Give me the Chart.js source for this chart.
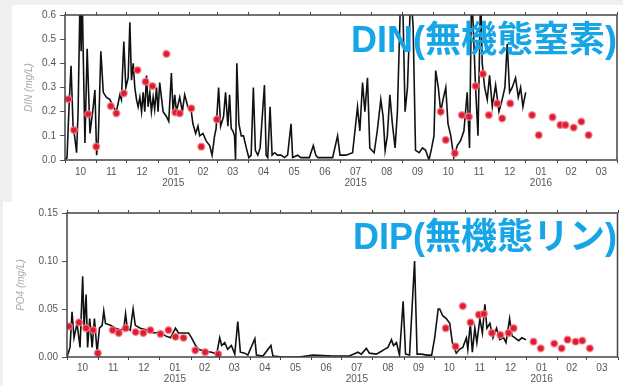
<!DOCTYPE html>
<html>
<head>
<meta charset="utf-8">
<script src="https://cdn.jsdelivr.net/npm/chart.js@4"></script>
<style>
  body { margin: 0; width: 623px; height: 386px; overflow: hidden; position: relative; background: #efefef; }
  .panel { position: absolute; background: #ffffff; }
  #p1 { left: 12px; top: 5px; width: 611px; height: 197px; }
  #p2 { left: 3px; top: 202px; width: 620px; height: 184px; }
  .ttl { position: absolute; right: 6px; top: 17px; color: #16a6e8; font-weight: bold; font-size: 36px; line-height: 36px;
         white-space: nowrap; font-family: "Liberation Sans", "Noto Sans CJK JP", sans-serif; }
</style>
</head>
<body>
<div class="panel" id="p1"><canvas id="dinChart" width="611" height="197"></canvas><div class="ttl">DIN(無機態窒素)</div></div>
<div class="panel" id="p2"><canvas id="dipChart" width="620" height="184"></canvas><div class="ttl">DIP(無機態リン)</div></div>
<script>
// Days counted from 2014-10-01
let monthStarts = [0, 31, 61, 92, 123, 151, 182, 212, 243, 273, 304, 335, 365, 396, 426, 457, 488, 517, 548];
let monthLabels = ['10', '11', '12', '01', '02', '03', '04', '05', '06', '07', '08', '09', '10', '11', '12', '01', '02', '03'];
let yearLabels = ['', '', '', '2015', '', '', '', '', '', '2015', '', '', '', '', '', '2016', '', ''];

// DIN model (black line)
let dinDays = [0, 2, 4, 6, 8, 9.5, 11.5, 13, 15, 16, 17, 18.5, 19.8, 22, 24.8, 28, 29.7, 31.4, 33, 35.6,
  38, 41, 44.6, 47.9, 51, 54.5, 56, 58.4, 60.4, 62.7, 64.4, 66, 67.7, 69.3, 71, 72.6, 74.3, 76, 77.6, 79.2,
  80.9, 82.5, 84.2, 85.8, 87.5, 89, 90.8, 92.4, 94, 97.4, 100.7, 103, 105.6, 107.3, 109, 110.6, 113.9, 116.5, 118.8, 122,
  125.4, 127, 129.7, 132, 133.7, 137, 140, 143.6, 146, 148.5, 150, 152.5, 154.5, 157.4, 159.4, 161.7, 163.4, 165, 166.7, 168.3,
  169.3, 170.6, 172.6, 175, 177.2, 180, 182.5, 184.8, 187, 189, 191.4, 193.7, 198, 199.7, 201.3, 203.6, 205.6, 208, 211, 214.5,
  217.8, 221, 224.4, 226, 231, 234, 239, 242.6, 246.5, 249, 251, 259, 265.7, 270.6, 273, 279, 285.5, 290.4, 292.7, 295.4,
  297.7, 300.3, 302.6, 306.9, 310, 313.5, 315.8, 317.8, 320, 322.5, 325, 327.7, 330, 333.3, 335.6, 337.6, 340, 343.3, 345.6, 348,
  351.6, 354.9, 358, 361.4, 364, 366.3, 368, 370.6, 373, 375.3, 378, 380.2, 383, 386, 389.4, 392.7, 396, 399.3, 401.6, 403.6,
  405.3, 407.6, 410, 412.6, 414.2, 416.6, 419.2, 421.5, 424.2, 427.5, 430.8, 434, 436.7, 439, 441.4, 444, 447.3, 450, 452.3, 454.6,
  457.3];
let dinModel = [0.00, 0.01, 0.22, 0.39, 0.14, 0.10, 0.03, 0.20, 0.70, 0.45, 0.70, 0.35, 0.07, 0.46, 0.11, 0.22, 0.29, 0.02, 0.08, 0.45,
  0.28, 0.26, 0.25, 0.22, 0.20, 0.27, 0.25, 0.49, 0.30, 0.34, 0.57, 0.33, 0.40, 0.30, 0.25, 0.22, 0.26, 0.20, 0.28, 0.20,
  0.35, 0.22, 0.28, 0.20, 0.26, 0.21, 0.30, 0.20, 0.32, 0.20, 0.18, 0.16, 0.36, 0.20, 0.27, 0.20, 0.26, 0.20, 0.27, 0.22,
  0.20, 0.15, 0.11, 0.14, 0.10, 0.11, 0.08, 0.06, 0.02, 0.10, 0.13, 0.30, 0.14, 0.18, 0.28, 0.14, 0.27, 0.13, 0.12, 0.10,
  0.00, 0.40, 0.15, 0.10, 0.10, 0.05, 0.01, 0.02, 0.30, 0.04, 0.02, 0.05, 0.31, 0.02, 0.01, 0.22, 0.02, 0.03, 0.02, 0.02,
  0.01, 0.02, 0.15, 0.01, 0.02, 0.01, 0.01, 0.01, 0.06, 0.02, 0.01, 0.01, 0.01, 0.10, 0.02, 0.02, 0.03, 0.22, 0.12, 0.32,
  0.20, 0.34, 0.05, 0.03, 0.12, 0.25, 0.18, 0.04, 0.10, 0.27, 0.15, 0.05, 0.20, 0.70, 0.60, 0.20, 0.30, 0.70, 0.55, 0.04,
  0.03, 0.05, 0.04, 0.00, 0.05, 0.10, 0.37, 0.30, 0.20, 0.25, 0.30, 0.15, 0.10, 0.01, 0.06, 0.08, 0.12, 0.28, 0.05, 0.70,
  0.55, 0.30, 0.10, 0.70, 0.40, 0.30, 0.25, 0.35, 0.22, 0.31, 0.20, 0.25, 0.30, 0.48, 0.28, 0.30, 0.34, 0.26, 0.30, 0.22,
  0.28];

// DIN observations (red dots)
let dinObsDays = [3.3, 8.9, 23, 31, 45.5, 51, 58.4, 72, 80, 86.8, 100.7, 109.6, 113.9, 125.4, 135.3, 150.8,
  373, 378, 387, 394, 401, 407.6, 414.9, 420.8, 429, 434, 442, 463.7, 470.3, 484, 491.8, 496.7, 505, 512.6, 519.8];
let dinObs = [0.252, 0.124, 0.19, 0.055, 0.223, 0.193, 0.276, 0.372, 0.324, 0.306, 0.439, 0.197, 0.193, 0.214, 0.055, 0.168,
  0.20, 0.083, 0.028, 0.186, 0.179, 0.306, 0.356, 0.186, 0.234, 0.172, 0.234, 0.186, 0.103, 0.177, 0.145, 0.145, 0.134, 0.159, 0.103];

// DIP model (black line)
let dipDays = [0, 3, 5, 7, 10, 13, 15.6, 17, 19, 20.5, 22.6, 25, 27.3, 30, 32.3, 35, 36.6, 38.3, 43.3, 48.3,
  53.3, 56.6, 58.3, 60, 63, 65.8, 68, 73, 79.6, 86.2, 92.8, 98, 103, 108, 111, 116, 121, 124, 128, 131,
  137.6, 144, 149, 152, 154, 157, 160, 163.6, 167, 170, 172.6, 177, 180, 187, 188.6, 195, 203, 205, 215, 231,
  245, 264.5, 281, 289.6, 293, 298, 301, 308, 313, 316, 319.5, 323, 325, 328, 331, 334.6, 337, 341, 346, 348.5,
  353, 358, 363, 366, 369.5, 371, 374, 377.6, 381, 383.6, 387.5, 390.8, 394, 397.6, 399, 401.5, 403.5, 406, 408, 411,
  413.5, 416, 418, 421, 424, 427.6, 430.7, 434.7, 437, 440.6, 443, 446, 449.6, 452.8, 457];
let dipModel = [0.000, 0.010, 0.047, 0.020, 0.035, 0.010, 0.084, 0.030, 0.065, 0.010, 0.040, 0.010, 0.040, 0.005, 0.030, 0.033, 0.048, 0.035, 0.033, 0.030,
  0.028, 0.030, 0.045, 0.030, 0.028, 0.050, 0.033, 0.030, 0.028, 0.025, 0.026, 0.022, 0.020, 0.030, 0.025, 0.025, 0.025, 0.020, 0.012, 0.008,
  0.006, 0.005, 0.003, 0.020, 0.012, 0.015, 0.008, 0.012, 0.003, 0.037, 0.005, 0.004, 0.002, 0.019, 0.002, 0.001, 0.012, 0.001, 0.000, 0.000,
  0.002, 0.001, 0.001, 0.005, 0.003, 0.009, 0.004, 0.003, 0.006, 0.008, 0.010, 0.018, 0.012, 0.015, 0.002, 0.058, 0.003, 0.002, 0.100, 0.003,
  0.003, 0.002, 0.002, 0.020, 0.050, 0.050, 0.043, 0.040, 0.035, 0.015, 0.004, 0.008, 0.010, 0.020, 0.008, 0.035, 0.005, 0.030, 0.015, 0.040,
  0.025, 0.055, 0.030, 0.035, 0.020, 0.030, 0.018, 0.020, 0.015, 0.040, 0.022, 0.020, 0.017, 0.020, 0.018];

// DIP observations (red dots)
let dipObsDays = [2, 12, 19, 26, 30.7, 45.5, 51.5, 58.4, 68.3, 76, 83, 93, 101, 108, 116, 127.7, 137.6, 150.5,
  377, 386.8, 394, 401.7, 410, 415, 423, 431.4, 439.6, 444.6, 464.4, 471.6, 485, 492.4, 498.3, 506.3, 512.9, 520.5];
let dipObs = [0.032, 0.036, 0.030, 0.028, 0.004, 0.028, 0.025, 0.030, 0.026, 0.025, 0.028, 0.024, 0.028, 0.021, 0.020, 0.007, 0.005, 0.003,
  0.030, 0.011, 0.053, 0.036, 0.044, 0.045, 0.025, 0.023, 0.025, 0.030, 0.016, 0.009, 0.014, 0.009, 0.018, 0.016, 0.017, 0.009];

// Frame and month boundary ticks
let framePlugin = {
  id: 'frame',
  afterDraw(chart) {
    let ctx = chart.ctx;
    let a = chart.chartArea;
    let x = chart.scales.x;
    ctx.save();
    ctx.strokeStyle = '#444';
    ctx.lineWidth = 1.5;
    ctx.strokeRect(a.left, a.top, a.right - a.left, a.bottom - a.top);
    ctx.lineWidth = 1;
    monthStarts.forEach(d => {
      let px = Math.round(x.getPixelForValue(d)) + 0.5;
      ctx.beginPath();
      ctx.moveTo(px, a.top - 3); ctx.lineTo(px, a.top);
      ctx.moveTo(px, a.bottom); ctx.lineTo(px, a.bottom + 3);
      ctx.stroke();
    });
    ctx.restore();
  }
};

function pairs(xs, ys) {
  return xs.map((d, i) => ({ x: d, y: ys[i] }));
}

function makeChart(id, s) {
  let mids = monthLabels.map((m, i) => (monthStarts[i] + monthStarts[i + 1]) / 2);
  return new Chart(document.getElementById(id), {
    type: 'line',
    data: {
      datasets: [{
        data: pairs(s.obsDays, s.obs),
        showLine: false,
        pointRadius: 3.4,
        pointBackgroundColor: '#e01a30',
        pointBorderColor: 'rgba(240,130,140,0.75)',
        pointBorderWidth: 1.5
      }, {
        data: pairs(s.days, s.model),
        borderColor: '#111',
        borderWidth: 1.6,
        pointRadius: 0,
        tension: 0
      }]
    },
    options: {
      responsive: false,
      animation: false,
      layout: { padding: s.pad },
      plugins: { legend: { display: false }, tooltip: { enabled: false } },
      scales: {
        x: {
          type: 'linear',
          min: 0,
          max: 548,
          grid: { display: false, drawTicks: false },
          border: { display: false },
          afterBuildTicks: scale => { scale.ticks = mids.map(v => ({ value: v })); },
          afterFit: scale => { scale.height = s.xh; },
          ticks: {
            autoSkip: false,
            maxRotation: 0,
            padding: s.xpad,
            color: '#555',
            font: { family: 'Liberation Sans', size: 10, lineHeight: 1.05 },
            callback: (v, i) => yearLabels[i] ? [monthLabels[i], yearLabels[i]] : monthLabels[i]
          }
        },
        y: {
          min: 0,
          max: s.ymax,
          grid: { drawOnChartArea: false, tickLength: 5, color: '#555' },
          border: { display: false },
          afterFit: scale => { scale.width = s.yw; },
          ticks: {
            stepSize: s.step,
            padding: 4,
            color: '#555',
            font: { family: 'Liberation Sans', size: 10 },
            callback: v => v.toFixed(s.dec)
          },
          title: {
            display: true,
            text: s.ytitle,
            color: '#aaa',
            padding: { top: s.tpad, bottom: 0 },
            font: { family: 'Liberation Sans', size: 10, style: 'italic' }
          }
        }
      }
    },
    plugins: [framePlugin]
  });
}

makeChart('dinChart', {
  days: dinDays, model: dinModel, obsDays: dinObsDays, obs: dinObs,
  ymax: 0.6, step: 0.1, dec: 1, ytitle: 'DIN (mg/L)',
  pad: { top: 10, right: 6, left: 0, bottom: 0 }, yw: 53, xh: 42, xpad: 7, tpad: 11
});

makeChart('dipChart', {
  days: dipDays, model: dipModel, obsDays: dipObsDays, obs: dipObs,
  ymax: 0.15, step: 0.05, dec: 2, ytitle: 'PO4 (mg/L)',
  pad: { top: 11, right: 3, left: 0, bottom: 0 }, yw: 64, xh: 29, xpad: 6, tpad: 12
});
</script>
</body>
</html>
